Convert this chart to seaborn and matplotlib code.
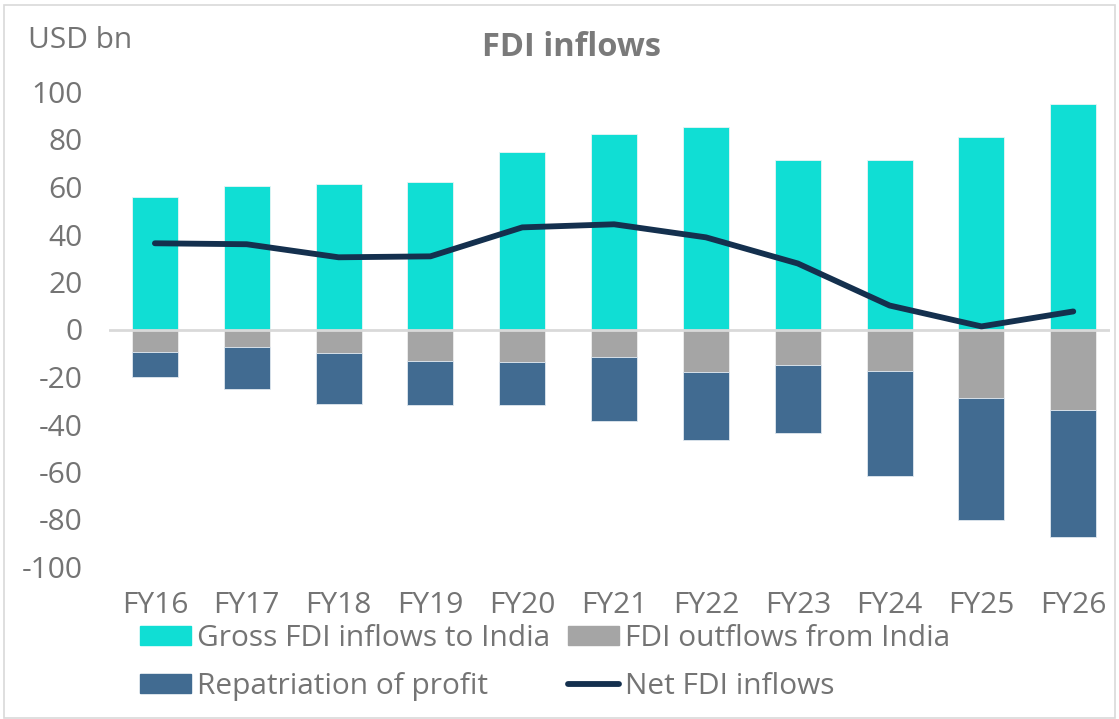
import numpy as np
import pandas as pd
import matplotlib.pyplot as plt
import seaborn as sns
from matplotlib.patches import Patch, Rectangle
from matplotlib.lines import Line2D

years = ["FY16", "FY17", "FY18", "FY19", "FY20", "FY21", "FY22", "FY23", "FY24", "FY25", "FY26"]
gross = [55.7, 60.3, 61.2, 62.0, 74.7, 82.3, 85.2, 71.3, 71.3, 81.0, 94.9]
outflows = [-9.3, -7.2, -9.7, -13.1, -13.5, -11.4, -18.1, -14.8, -17.3, -28.7, -33.8]
repatriation = [-10.5, -17.7, -21.5, -18.5, -18.1, -27.0, -28.3, -28.7, -44.3, -51.5, -53.5]
net = [36.3, 35.9, 30.4, 30.8, 43.0, 44.3, 38.8, 27.8, 10.1, 1.3, 7.6]

df = pd.DataFrame({"year": years, "gross": gross, "out": outflows,
                   "repat": repatriation, "net": net})

c_gross = "#10DED4"
c_out = "#A5A5A5"
c_repat = "#416B91"
c_net = "#14304E"
txt = "#747474"
fs = 21.5

sns.set_style("white")
plt.rcParams["font.family"] = ["Open Sans", "DejaVu Sans"]
plt.rcParams["axes.unicode_minus"] = False

fig = plt.figure(figsize=(11.19, 7.19), dpi=100)
ax = fig.add_axes([109 / 1119, 1 - 567 / 719, (1110 - 109) / 1119, (567 - 92) / 719])

sns.barplot(data=df, x="year", y="gross", color=c_gross, width=0.5, ax=ax,
            saturation=1, edgecolor="#e8f4f4", linewidth=0.6)
sns.barplot(data=df, x="year", y="out", color=c_out, width=0.5, ax=ax,
            saturation=1, edgecolor="#eeeeee", linewidth=0.6)
sns.barplot(data=df, x="year", y="repat", bottom=df["out"], color=c_repat, width=0.5,
            ax=ax, saturation=1, edgecolor="#e0e8ef", linewidth=0.6)
ax.axhline(0, color="#D9D9D9", lw=2, zorder=1.5)
sns.lineplot(x=np.arange(len(years)), y=df["net"], color=c_net, lw=4.2, ax=ax,
             solid_capstyle="round", solid_joinstyle="round", zorder=5)

ax.set_xlim(-0.5, 10.4)
ax.set_ylim(-100, 100)
ax.set_yticks(np.arange(-100, 101, 20))
ax.set_xlabel("")
ax.set_ylabel("")
for s in ax.spines.values():
    s.set_visible(False)
ax.tick_params(axis="y", labelsize=fs, labelcolor=txt, pad=19, length=0)
ax.tick_params(axis="x", labelsize=fs, labelcolor=txt, pad=17, length=0)

fig.text(28 / 1119, 1 - 40 / 719, "USD bn", fontsize=fs, color=txt, va="center", ha="left")
fig.text(572 / 1119, 1 - 47 / 719, "FDI inflows", fontsize=23.5, color="#7a7a7a",
         fontweight="bold", va="center", ha="center")

handles = [Patch(color=c_gross), Patch(color=c_out), Patch(color=c_repat),
           Line2D([], [], color=c_net, lw=4.2, solid_capstyle="round")]
labels = ["Gross FDI inflows to India", "FDI outflows from India",
          "Repatriation of profit", "Net FDI inflows"]
# order for row-wise layout in 2 columns
order = [0, 2, 1, 3]
leg = fig.legend([handles[i] for i in order], [labels[i] for i in order], ncol=2,
                 loc="upper left", bbox_to_anchor=(140 / 1119, 1 - 624 / 719),
                 frameon=False, fontsize=fs, labelcolor=txt, handlelength=1.7,
                 handleheight=0.6, handletextpad=0.2, columnspacing=0.6,
                 labelspacing=0.65, borderaxespad=0, borderpad=0)

fig.patches.append(Rectangle((4 / 1119, 0.002), 1 - 8 / 1119, 1 - 6 / 719,
                             transform=fig.transFigure, fill=False,
                             edgecolor="#D9D9D9", lw=1.2))

fig.savefig("out.png", dpi=100)
